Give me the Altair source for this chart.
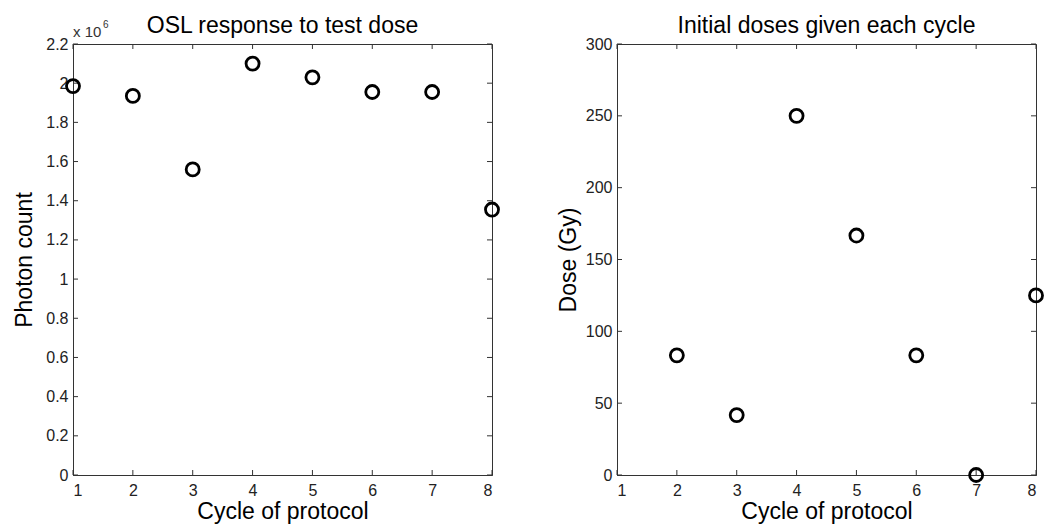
import altair as alt
import pandas as pd

# ---- data ----
cycles_osl = [1, 2, 3, 4, 5, 6, 7, 8]
photon_counts = [1985000, 1935000, 1560000, 2100000, 2030000, 1955000, 1955000, 1355000]

cycles_dose = [2, 3, 4, 5, 6, 7, 8]
doses_gy = [83.3, 41.7, 250.0, 166.7, 83.3, 0.0, 125.0]

x_tick_values = [1, 2, 3, 4, 5, 6, 7, 8]
osl_tick_values = [0, 200000, 400000, 600000, 800000, 1000000, 1200000,
                   1400000, 1600000, 1800000, 2000000, 2200000]
dose_tick_values = [0, 50, 100, 150, 200, 250, 300]

W, H = 419, 431
FONT = "Liberation Sans"
AX = "#333333"
TICK = 5


def panel(df, yfield, ydomain, yticks, title, ytitle, label_expr=None, extra=None):
    xs = alt.Scale(domain=[1, 8], nice=False, zero=False)
    ys = alt.Scale(domain=ydomain, nice=False, zero=False)
    yaxis_kw = dict(values=yticks, title=ytitle, titleX=-42, titleY=H / 2,
                    titleBaseline="alphabetic", titleAngle=270, labelPadding=5)
    if label_expr:
        yaxis_kw["labelExpr"] = label_expr
    else:
        yaxis_kw["format"] = "d"
    xaxis = alt.Axis(values=x_tick_values, format="d", title="Cycle of protocol",
                     titleY=43, titleBaseline="alphabetic", labelPadding=7)
    yaxis = alt.Axis(**yaxis_kw)

    pts = alt.Chart(df).mark_point(
        shape="circle", filled=False, size=170, strokeWidth=2.8,
        color="black", opacity=1
    ).encode(
        x=alt.X("cycle:Q", scale=xs, axis=xaxis, title="Cycle of protocol"),
        y=alt.Y(f"{yfield}:Q", scale=ys, axis=yaxis, title=ytitle),
    )
    xt = pd.DataFrame({"cycle": x_tick_values})
    yt = pd.DataFrame({yfield: yticks})
    bottom = alt.Chart(xt).mark_rule(color=AX).encode(
        x=alt.X("cycle:Q", scale=xs, axis=xaxis, title="Cycle of protocol"),
        y=alt.value(H), y2=alt.value(H - TICK))
    top = alt.Chart(xt).mark_rule(color=AX).encode(
        x=alt.X("cycle:Q", scale=xs, axis=xaxis, title="Cycle of protocol"),
        y=alt.value(0), y2=alt.value(TICK))
    left = alt.Chart(yt).mark_rule(color=AX).encode(
        y=alt.Y(f"{yfield}:Q", scale=ys, axis=yaxis, title=ytitle),
        x=alt.value(0), x2=alt.value(TICK))
    right = alt.Chart(yt).mark_rule(color=AX).encode(
        y=alt.Y(f"{yfield}:Q", scale=ys, axis=yaxis, title=ytitle),
        x=alt.value(W), x2=alt.value(W - TICK))
    ttl = alt.Chart(pd.DataFrame({"s": [title]})).mark_text(
        align="center", baseline="alphabetic", fontSize=23, font=FONT, color="black"
    ).encode(text="s:N", x=alt.value(W / 2), y=alt.value(-11))
    layers = [bottom, top, left, right, pts, ttl] + (extra or [])
    return alt.layer(*layers).properties(width=W, height=H)


osl_df = pd.DataFrame({"cycle": cycles_osl, "count": photon_counts})
dose_df = pd.DataFrame({"cycle": cycles_dose, "dose": doses_gy})

exp_base = alt.Chart(pd.DataFrame({"s": ["x 10"]})).mark_text(
    align="left", baseline="alphabetic", fontSize=15, font=FONT, color="#333333"
).encode(text="s:N", x=alt.value(0), y=alt.value(-7))
exp_sup = alt.Chart(pd.DataFrame({"s": ["6"]})).mark_text(
    align="left", baseline="alphabetic", fontSize=10, font=FONT, color="#333333"
).encode(text="s:N", x=alt.value(30), y=alt.value(-16))

left_panel = panel(osl_df, "count", [0, 2200000], osl_tick_values,
                   "OSL response to test dose", "Photon count",
                   label_expr="format(datum.value / 1000000, '~g')",
                   extra=[exp_base, exp_sup])
right_panel = panel(dose_df, "dose", [0, 300], dose_tick_values,
                    "Initial doses given each cycle", "Dose (Gy)")

chart = alt.hconcat(left_panel, right_panel, spacing=51).properties(
    padding={"left": 12, "top": 14, "right": 0, "bottom": 0},
    background="white",
).configure_view(
    stroke=AX, strokeWidth=1
).configure_axis(
    labelFont=FONT, labelFontSize=16, labelColor="#222222",
    titleFont=FONT, titleFontSize=23, titleFontWeight="normal", titleColor="black",
    ticks=False, domainColor=AX, domainWidth=1, grid=False,
)

chart.save("out.html", embed_options={"renderer": "svg", "actions": False})
